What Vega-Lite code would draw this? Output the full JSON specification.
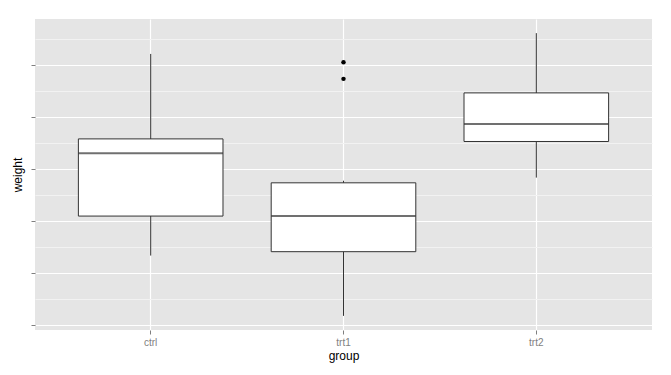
{
  "$schema": "https://vega.github.io/schema/vega-lite/v6.json",
  "width": 617,
  "height": 311,
  "autosize": {"type": "none"},
  "padding": {"left": 35, "top": 19, "right": 19, "bottom": 45},
  "background": "white",
  "config": {
    "view": {"fill": "#E5E5E5", "stroke": null},
    "font": "Liberation Sans",
    "axis": {"domain": false}
  },
  "datasets": {
    "stats": [
      {"group": "ctrl", "lower": 4.17, "q1": 4.55, "median": 5.155, "q3": 5.2925, "upper": 6.11},
      {"group": "trt1", "lower": 3.59, "q1": 4.2075, "median": 4.55, "q3": 4.87, "upper": 4.89},
      {"group": "trt2", "lower": 4.92, "q1": 5.2675, "median": 5.435, "q3": 5.735, "upper": 6.31}
    ],
    "outliers": [
      {"group": "trt1", "weight": 5.87},
      {"group": "trt1", "weight": 6.03}
    ]
  },
  "resolve": {"axis": {"y": "independent"}},
  "layer": [
    {
      "data": {"name": "stats"},
      "mark": {"type": "rule", "color": "#333333", "strokeWidth": 1},
      "encoding": {
        "x": {
          "field": "group", "type": "nominal", "title": "group",
          "scale": {"paddingInner": 0.25, "paddingOuter": 0.225},
          "axis": {
            "labelAngle": 0, "bandPosition": 0.5,
            "grid": true, "gridColor": "white", "gridWidth": 1.2,
            "tickColor": "#7F7F7F", "tickSize": 4, "tickWidth": 1,
            "labelColor": "#7F7F7F", "labelFontSize": 10, "labelPadding": 3,
            "titleColor": "black", "titleFontSize": 12, "titleFontWeight": "normal", "titlePadding": 3
          }
        },
        "y": {
          "field": "lower", "type": "quantitative", "title": "weight",
          "scale": {"domain": [3.454, 6.446], "nice": false, "zero": false},
          "axis": {
            "values": [3.5, 4.0, 4.5, 5.0, 5.5, 6.0],
            "labels": false,
            "grid": true, "gridColor": "white", "gridWidth": 1.2,
            "tickColor": "#7F7F7F", "tickSize": 4, "tickWidth": 1,
            "titleColor": "black", "titleFontSize": 12, "titleFontWeight": "normal", "titlePadding": 6
          }
        },
        "y2": {"field": "upper"}
      }
    },
    {
      "data": {"name": "stats"},
      "mark": {"type": "bar", "fill": "white", "stroke": "#333333", "strokeWidth": 1},
      "encoding": {
        "x": {"field": "group", "type": "nominal"},
        "y": {
          "field": "q1", "type": "quantitative",
          "axis": {
            "values": [3.75, 4.25, 4.75, 5.25, 5.75, 6.25],
            "grid": true, "gridColor": "#F2F2F2", "gridWidth": 1,
            "ticks": false, "labels": false, "domain": false, "title": null,
            "orient": "right"
          }
        },
        "y2": {"field": "q3"}
      }
    },
    {
      "data": {"name": "stats"},
      "mark": {"type": "tick", "color": "#333333", "thickness": 2, "size": 144.6},
      "encoding": {
        "x": {"field": "group", "type": "nominal"},
        "y": {"field": "median", "type": "quantitative", "axis": null}
      }
    },
    {
      "data": {"name": "outliers"},
      "mark": {"type": "point", "filled": true, "color": "black", "size": 20, "opacity": 1},
      "encoding": {
        "x": {"field": "group", "type": "nominal"},
        "y": {"field": "weight", "type": "quantitative", "axis": null}
      }
    }
  ]
}
